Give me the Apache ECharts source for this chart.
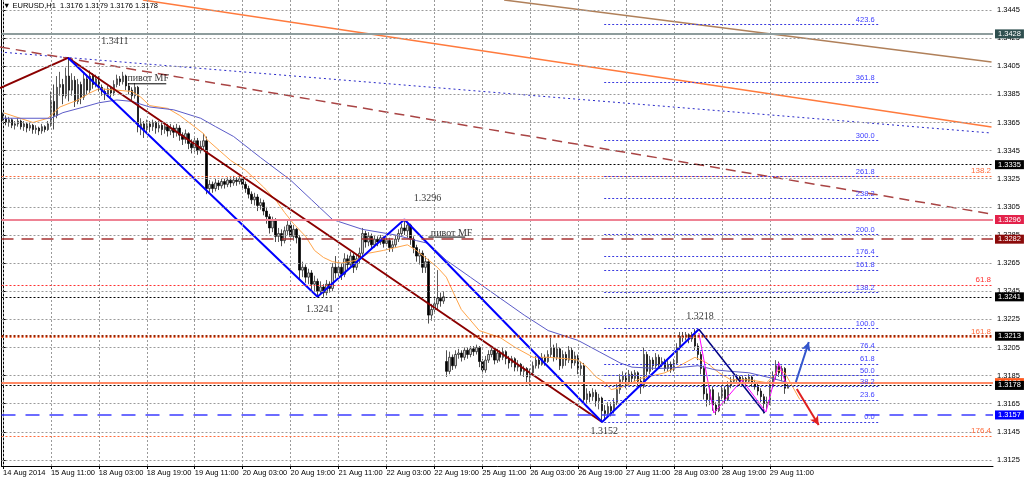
<!DOCTYPE html>
<html><head><meta charset="utf-8">
<script src="https://cdn.jsdelivr.net/npm/echarts@6/dist/echarts.min.js"></script>
<style>html,body{margin:0;padding:0;background:#fff}#c{width:1024px;height:482px}</style>
</head><body><div id="c"></div>
<script>
// ---------- DATA ----------
const symbolName = 'EURUSD,H1';
const xTickLabels = ['14 Aug 2014','15 Aug 11:00','18 Aug 03:00','18 Aug 19:00','19 Aug 11:00','20 Aug 03:00','20 Aug 19:00','21 Aug 11:00','22 Aug 03:00','22 Aug 19:00','25 Aug 11:00','26 Aug 03:00','26 Aug 19:00','27 Aug 11:00','28 Aug 03:00','28 Aug 19:00','29 Aug 11:00'];
const barsPerTick = 16;
const slotCount = 331;
const yTicks = [1.3125,1.3145,1.3165,1.3185,1.3205,1.3225,1.3245,1.3265,1.3285,1.3305,1.3325,1.3345,1.3365,1.3385,1.3405,1.3425,1.3445];
const yMin = 1.31207, yMax = 1.34521;

// hourly candles, in pips (1.3368 -> 3368)
const opens = [3370,3368,3365,3367,3363,3364,3366,3362,3364,3361,3363,3360,3361,3359,3362,3360,
3364,3380,3370,3390,3392,3384,3398,3388,3395,3380,3392,3383,3396,3388,3398,3392,
3396,3390,3387,3385,3389,3386,3392,3396,3394,3398,3391,3388,3384,3390,3362,3364,
3360,3364,3362,3365,3361,3363,3360,3362,3359,3361,3358,3361,3356,3353,3357,3350,
3347,3352,3345,3348,3352,3318,3321,3318,3322,3320,3323,3321,3324,3322,3324,3323,
3325,3321,3318,3314,3310,3312,3306,3308,3302,3298,3290,3295,3284,3286,3281,3288,
3292,3284,3289,3283,3260,3262,3255,3258,3250,3252,3245,3248,3244,3250,3247,3262,
3258,3262,3257,3268,3264,3270,3262,3268,3272,3286,3280,3284,3278,3282,3280,3283,
3279,3281,3276,3278,3282,3286,3290,3288,3292,3282,3276,3270,3272,3262,3266,3228,
3232,3236,3240,3238,3195,3188,3198,3192,3200,3201,3198,3203,3200,3204,3202,3205,
3195,3189,3196,3200,3203,3196,3201,3198,3202,3197,3194,3197,3191,3193,3188,3190,
3184,3187,3192,3196,3193,3198,3195,3200,3205,3198,3204,3192,3200,3196,3203,3194,
3199,3190,3192,3168,3172,3170,3173,3167,3169,3160,3158,3163,3160,3166,3175,3182,
3185,3180,3186,3183,3187,3181,3178,3200,3188,3196,3192,3198,3193,3195,3190,3193,
3189,3194,3205,3213,3212,3214,3211,3214,3206,3200,3190,3172,3168,3175,3164,3160,
3170,3175,3168,3178,3181,3182,3184,3180,3183,3181,3184,3180,3177,3174,3170,3165,
3166,3178,3185,3192,3187,3190,3176];
const closes = [3368,3365,3367,3363,3364,3366,3362,3364,3361,3363,3360,3361,3359,3362,3360,3364,
3380,3370,3390,3392,3384,3398,3388,3395,3380,3392,3383,3396,3388,3398,3392,3396,
3390,3387,3385,3389,3386,3392,3396,3394,3398,3391,3388,3384,3390,3362,3364,3360,
3364,3362,3365,3361,3363,3360,3362,3359,3361,3358,3361,3356,3353,3357,3350,3347,
3352,3345,3348,3352,3318,3321,3318,3322,3320,3323,3321,3324,3322,3324,3323,3325,
3321,3318,3314,3310,3312,3306,3308,3302,3298,3290,3295,3284,3286,3281,3288,3292,
3284,3289,3283,3260,3262,3255,3258,3250,3252,3245,3248,3244,3250,3247,3262,3258,
3262,3257,3268,3264,3270,3262,3268,3272,3286,3280,3284,3278,3282,3280,3283,3279,
3281,3276,3278,3282,3286,3290,3288,3292,3282,3276,3270,3272,3262,3266,3228,3232,
3236,3240,3238,3241,3188,3198,3192,3200,3201,3198,3203,3200,3204,3202,3205,3195,
3189,3196,3200,3203,3196,3201,3198,3202,3197,3194,3197,3191,3193,3188,3190,3184,
3187,3192,3196,3193,3198,3195,3200,3205,3198,3204,3192,3200,3196,3203,3194,3199,
3190,3192,3168,3172,3170,3173,3167,3169,3160,3158,3163,3160,3166,3175,3182,3185,
3180,3186,3183,3187,3181,3178,3200,3188,3196,3192,3198,3193,3195,3190,3193,3189,
3194,3205,3213,3212,3214,3211,3214,3206,3200,3190,3172,3168,3175,3164,3160,3170,
3175,3168,3178,3181,3182,3184,3180,3183,3181,3184,3180,3177,3174,3170,3165,3166,
3178,3185,3192,3187,3190,3176,3178];
const highs = [3372,3370,3369,3368,3366,3368,3367,3366,3365,3365,3364,3363,3362,3364,3363,3366,
3387,3392,3398,3401,3396,3404,3411,3400,3398,3396,3394,3400,3399,3402,3400,3399,
3398,3392,3389,3391,3391,3395,3399,3398,3401,3399,3393,3390,3393,3391,3368,3366,
3367,3366,3367,3366,3366,3365,3365,3364,3364,3363,3364,3363,3358,3360,3358,3353,
3355,3354,3352,3357,3355,3324,3323,3325,3324,3325,3325,3326,3326,3327,3326,3327,
3326,3323,3320,3316,3315,3314,3311,3310,3305,3300,3298,3297,3290,3289,3291,3296,
3294,3292,3290,3285,3266,3264,3261,3260,3256,3254,3252,3250,3253,3252,3265,3270,
3266,3265,3272,3271,3273,3272,3271,3276,3290,3288,3287,3286,3285,3284,3285,3284,
3284,3283,3281,3285,3289,3293,3296,3294,3293,3284,3278,3275,3274,3270,3268,3236,
3240,3260,3244,3245,3203,3202,3200,3203,3204,3203,3205,3205,3206,3206,3207,3206,
3197,3199,3203,3206,3204,3204,3203,3205,3203,3199,3199,3198,3196,3194,3192,3191,
3190,3195,3199,3198,3201,3200,3203,3213,3207,3208,3205,3203,3202,3206,3205,3202,
3200,3195,3194,3176,3174,3176,3175,3172,3170,3164,3166,3166,3169,3179,3186,3188,
3187,3189,3188,3189,3188,3184,3205,3202,3199,3198,3201,3200,3198,3197,3196,3195,
3197,3208,3216,3216,3216,3215,3216,3218,3208,3202,3192,3176,3178,3177,3166,3173,
3178,3177,3181,3184,3185,3186,3185,3185,3184,3186,3185,3182,3179,3176,3172,3170,
3181,3188,3196,3195,3192,3191,3179];
const lows = [3366,3363,3362,3361,3360,3362,3360,3359,3358,3359,3357,3357,3356,3357,3358,3359,
3362,3360,3368,3384,3378,3382,3380,3384,3376,3378,3378,3381,3385,3386,3389,3390,
3387,3384,3381,3383,3383,3384,3390,3391,3392,3388,3385,3381,3382,3358,3356,3354,
3358,3358,3359,3357,3358,3356,3357,3355,3356,3354,3355,3352,3349,3350,3346,3343,
3344,3342,3343,3345,3314,3315,3315,3316,3317,3318,3318,3319,3319,3320,3320,3321,
3318,3315,3311,3307,3306,3302,3303,3299,3293,3286,3287,3280,3280,3277,3279,3285,
3280,3281,3279,3253,3255,3251,3250,3246,3245,3241,3243,3241,3242,3244,3245,3254,
3255,3253,3255,3260,3262,3258,3260,3265,3270,3276,3277,3275,3276,3277,3278,3276,
3277,3273,3273,3276,3280,3284,3285,3283,3278,3272,3266,3264,3258,3258,3222,3224,
3229,3232,3234,3236,3184,3186,3189,3190,3197,3195,3196,3197,3198,3199,3200,3191,
3186,3187,3194,3198,3193,3194,3195,3196,3193,3190,3191,3188,3188,3185,3184,3180,
3178,3185,3190,3190,3192,3192,3194,3198,3195,3196,3189,3190,3192,3194,3190,3192,
3186,3185,3165,3165,3166,3167,3163,3161,3152,3154,3155,3156,3158,3164,3172,3179,
3176,3178,3180,3181,3178,3172,3176,3184,3186,3189,3190,3190,3191,3188,3188,3187,
3188,3193,3203,3209,3210,3208,3209,3203,3196,3186,3168,3163,3164,3160,3157,3159,
3168,3165,3167,3176,3179,3180,3178,3179,3178,3180,3177,3175,3171,3166,3158,3161,
3164,3176,3182,3184,3181,3172,3176];

// moving averages: [bar index, pips]
const maFast = [[0,3372],[10,3365],[15,3368],[19,3376],[25,3381],[29,3386],[32,3389],[38,3388],[43,3387],[46,3383],[49,3377],[55,3375],[59,3370],[67,3357],[68,3353],[76,3338],[81,3331],[87,3319],[91,3310],[94,3301],[97,3293],[101,3284],[104,3274],[107,3269],[110,3266],[113,3265],[118,3267],[122,3272],[127,3274],[131,3276],[135,3278],[138,3274],[141,3269],[145,3262],[148,3255],[151,3241],[153,3232],[159,3217],[166,3212],[171,3205],[177,3198],[182,3198],[188,3197],[192,3196],[195,3191],[198,3184],[201,3180],[203,3175],[207,3177],[213,3183],[221,3187],[225,3191],[231,3198],[235,3194],[239,3187],[243,3182],[249,3182],[255,3180],[259,3189],[261,3187],[266,3168]];
const maSlow = [[0,3368],[16,3368],[20,3372],[27,3376],[32,3379],[38,3381],[43,3380],[49,3376],[57,3374],[66,3368],[71,3362],[77,3355],[86,3340],[96,3324],[103,3310],[110,3296],[120,3289],[131,3285],[138,3281],[142,3279],[148,3267],[156,3255],[166,3240],[174,3228],[182,3217],[192,3210],[199,3202],[206,3194],[210,3191],[219,3190],[227,3191],[232,3192],[238,3189],[243,3188],[249,3187],[257,3183],[262,3180]];

// trend lines and zigzags: [bar index, pips]
const trendOrange = [[46.7,3452.1],[330,3361.8]];
const trendBrown = [[167.3,3452.1],[330,3408]];
const trendBlueDot = [[-1,3415.1],[330,3357.5]];
const trendRedDash = [[-1,3418.7],[330,3299.9]];
const zigMaroon = [[-1,3389.5],[21.7,3411],[200,3152]];
const zigBlue = [[21.7,3411],[105,3241],[134,3296],[200,3152],[232.3,3218]];
const zigNavy = [[232.3,3218],[254.3,3158.4]];
const zigMagenta = [[232.3,3215.3],[237.3,3158.4],[246.7,3181.8],[254.7,3159.1],[259,3194],[261.3,3179.7]];
const arrowUp = [[264.7,3180.4],[269,3208.9]];
const arrowDown = [[265,3175.4],[272.3,3149.8]];
const pivotUnderlines = [[[41.7,3392.5],[54.5,3392.5]],[[142,3283.5],[154.3,3283.5]]];

// horizontal levels (price) with axis tags
const levelPrices = [1.3428,1.3335,1.3296,1.3282,1.3241,1.3213,1.3180,1.3178,1.3157];
// other fib marks (price, text)
const extraFibPrices = [1.33269,1.32494,1.32126,1.31422];
const extraFibTexts = ['138.2','61.8','161.8','176.4'];
// fibonacci grid
const fibLevels = [0,23.6,38.2,50,61.8,76.4,100,138.2,161.8,176.4,200,238.2,261.8,300,361.8,423.6];
const fibLow = 1.31517, fibHigh = 1.32185;
const fibRange = [200.7,292.3];

// text annotations
const annotTexts = ['1.3411','1.3296','1.3241','1.3152','1.3218','пивот MF','пивот MF'];
const annotIdx = [33,137.3,101.3,196.3,228.3,41.7,143];
const annotPips = [3425.8,3314.1,3235.2,3148.4,3230.2,3399.5,3289.2];

// ---------- STYLES ----------
const FONT = 'Liberation Sans';
const GRID_COLOR = '#9a9a9a';
const levelStyles = [
  {c:'#8e9d9d', w:2, t:'solid', box:'#2f4f4f'},
  {c:'#000000', w:1, t:[2,2], box:'#000000'},
  {c:'#ee8394', w:2, t:'solid', box:'#e3224b'},
  {c:'#a83232', w:1.5, t:[12,8], box:'#8b0a0a'},
  {c:'#000000', w:1, t:[2,2], box:'#000000'},
  {c:'#9c2500', w:2, t:[2,2], box:'#000000'},
  {c:'#ff8a66', w:2, t:'solid', box:'#ff5a1f'},
  {c:'#000000', w:1, t:[2,2], box:'#000000'},
  {c:'#3c3cff', w:1.5, t:[14,10], box:'#0000ff'}
];
const extraFibColors = ['#ff6a3a','#ff3030','#ff6a3a','#ff6a3a'];

const P = v => 1 + v / 10000;
const pts = arr => arr.map(p => [p[0], P(p[1])]);

const chart = echarts.init(document.getElementById('c'), null, {renderer:'canvas'});
const series = [];

// dotted grid lines, placed through the axes' scales
series.push({
  type:'line', xAxisIndex:1, yAxisIndex:0, data:[], silent:true, clip:false, z:2,
  markLine:{ symbol:['none','none'], silent:true, animation:false, precision:6,
    lineStyle:{color:GRID_COLOR, width:1, type:[2,2]}, label:{show:false},
    data: yTicks.map(v=>[{coord:[-0.5,v]},{coord:[slotCount-0.5,v]}])
      .concat(xTickLabels.map((_,k)=>[{coord:[k*barsPerTick,yMin]},{coord:[k*barsPerTick,yMax]}])) }
});

// candles
series.push({
  type:'candlestick', xAxisIndex:0, yAxisIndex:0, barWidth:2,
  data: opens.map((o,i)=>[P(o),P(closes[i]),P(lows[i]),P(highs[i])]),
  itemStyle:{color:'#d0d0d0', color0:'#000000', borderColor:'#1a1a1a', borderColor0:'#000000', borderWidth:0.7},
  z:3
});

// levels
levelPrices.forEach((p,k)=>{
  const s = levelStyles[k];
  series.push({
    type:'line', xAxisIndex:1, yAxisIndex:0, data:[], silent:true, clip:false, z:2,
    markLine:{ symbol:['none','none'], silent:true, animation:false, precision:6,
      lineStyle:{color:s.c, width:s.w, type:s.t},
      label:{show:true, position:'end', distance:2, formatter:p.toFixed(4), color:'#fff', backgroundColor:s.box, padding:[1,3,0,3], fontSize:7.5, fontFamily:FONT},
      data:[{yAxis:p}] }
  });
});
extraFibPrices.forEach((p,k)=>{
  series.push({
    type:'line', xAxisIndex:1, yAxisIndex:0, data:[], silent:true, clip:false, z:2,
    markLine:{ symbol:['none','none'], silent:true, animation:false, precision:6,
      lineStyle:{color:extraFibColors[k], width:1, type:[2,2]},
      label:{show:true, position:'insideEndTop', distance:[2,1], formatter:extraFibTexts[k], color:extraFibColors[k], fontSize:8, fontFamily:FONT},
      data:[{yAxis:p}] }
  });
});
// fib grid
series.push({
  type:'line', xAxisIndex:1, yAxisIndex:0, data:[], silent:true, clip:false, z:2,
  markLine:{ symbol:['none','none'], silent:true, animation:false, precision:6,
    lineStyle:{color:'#3a3ae0', width:1, type:[2,2]},
    label:{show:true, position:'insideEndTop', distance:[4,1], formatter:'{b}', color:'#4040ff', fontSize:7.5, fontFamily:FONT},
    data: fibLevels.map(l=>{ const p = fibLow + (fibHigh-fibLow)*l/100; return [{coord:[fibRange[0],p], name:l.toFixed(1)},{coord:[fibRange[1],p]}]; }) }
});

function addLine(data, color, width, type, z){
  series.push({type:'line', xAxisIndex:1, yAxisIndex:0, data:pts(data), symbol:'none', silent:true, z:z||4,
    lineStyle:{color, width, type:type||'solid'}});
}
addLine(trendOrange,'#ff7a3d',1.5);
addLine(trendBrown,'#b0805a',1.5);
addLine(trendBlueDot,'#2a2ac8',1,[2,3]);
addLine(trendRedDash,'#a94444',1.5,[10,6]);
addLine(maFast,'#ffa54a',1,'solid',3.5);
addLine(maSlow,'#5b5bc8',1,'solid',3.5);
addLine(zigMaroon,'#8b0000',2);
addLine(zigBlue,'#0000ff',2);
addLine(zigNavy,'#000080',1.5);
addLine(zigMagenta,'#ff00ff',1);
pivotUnderlines.forEach(u=>addLine(u,'#000000',1));

// arrows
[[arrowUp,'#3355cc'],[arrowDown,'#e02020']].forEach(([a,c])=>{
  series.push({type:'line', xAxisIndex:1, yAxisIndex:0, data:[], silent:true, clip:false, z:5,
    markLine:{symbol:['none','arrow'], symbolSize:[7,9], silent:true, animation:false, precision:6,
      lineStyle:{color:c, width:2, type:'solid'}, label:{show:false},
      data:[[{coord:[a[0][0],P(a[0][1])]},{coord:[a[1][0],P(a[1][1])]}]]}});
});

// annotations
series.push({
  type:'scatter', xAxisIndex:1, yAxisIndex:0, symbolSize:1, itemStyle:{color:'rgba(0,0,0,0)'}, silent:true, z:6,
  data: annotTexts.map((t,k)=>({name:t, value:[annotIdx[k], P(annotPips[k])]})),
  label:{show:true, formatter:'{b}', position:[0,0], align:'left', verticalAlign:'top', fontFamily:'Liberation Serif', fontSize:10, color:'#000'}
});

const tickFn = (i)=> i % barsPerTick === 0 && i/barsPerTick < xTickLabels.length;
const last = opens.length-1;
const option = {
  animation:false,
  backgroundColor:'#ffffff',
  title:{text:'▼ ' + symbolName + '  ' + [opens[last],highs[last],lows[last],closes[last]].map(v=>P(v).toFixed(4)).join(' '),
    left:3, top:2, padding:0, textStyle:{fontSize:7.5, fontWeight:'normal', color:'#000', fontFamily:FONT}},
  grid:{left:1, right:31, top:0, bottom:16, containLabel:false},
  xAxis:[
    {type:'category', data:Array.from({length:slotCount},(_,i)=>String(i)), boundaryGap:true,
     axisLine:{show:true, lineStyle:{color:'#000', width:1}},
     axisTick:{show:true, interval:tickFn, alignWithLabel:true, length:3, lineStyle:{color:'#000'}},
     axisLabel:{interval:tickFn, formatter:(v,i)=>xTickLabels[Math.round(i/barsPerTick)], align:'left', fontSize:7.5, color:'#000', margin:3, fontFamily:FONT},
     splitLine:{show:false}},
    {type:'value', min:-0.5, max:slotCount-0.5, show:false}
  ],
  yAxis:[
    {type:'value', position:'right', min:yMin, max:yMax, scale:true,
     axisLine:{show:true, lineStyle:{color:'#000'}},
     axisTick:{show:true, length:3, customValues:yTicks, lineStyle:{color:'#000'}},
     axisLabel:{customValues:yTicks, formatter:v=>v.toFixed(4), fontSize:7.5, color:'#000', margin:4, fontFamily:FONT},
     splitLine:{show:false}},
    {type:'value', position:'left', min:yMin, max:yMax, axisLine:{show:true, lineStyle:{color:'#000'}}, axisTick:{show:false}, axisLabel:{show:false}, splitLine:{show:false}}
  ],
  series
};
chart.setOption(option);
</script></body></html>
